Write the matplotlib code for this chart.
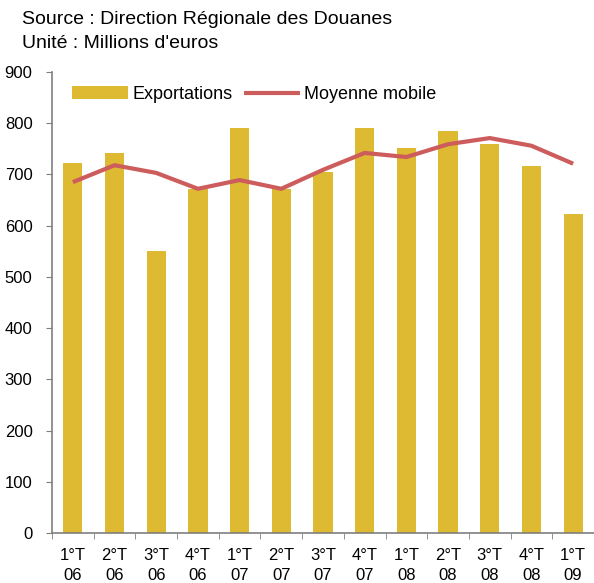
import matplotlib
matplotlib.use("Agg")
import matplotlib.pyplot as plt
import numpy as np

plt.rcParams['font.family'] = ['Liberation Sans', 'DejaVu Sans']

categories = ["1°T\n06", "2°T\n06", "3°T\n06", "4°T\n06", "1°T\n07", "2°T\n07", "3°T\n07",
              "4°T\n07", "1°T\n08", "2°T\n08", "3°T\n08", "4°T\n08", "1°T\n09"]
exportations = [722, 742, 551, 672, 791, 672, 705, 791, 752, 785, 759, 717, 623]
moyenne_mobile = [685, 718, 703, 672, 689, 672, 709, 742, 734, 759, 771, 756, 721]
yticks = [0, 100, 200, 300, 400, 500, 600, 700, 800, 900]

bar_color = "#DEB932"
line_color = "#CD5C5C"
axis_color = "#7F7F7F"

fig = plt.figure(figsize=(5.94, 5.83), dpi=100)
ax = fig.add_axes([52/594, 1 - 533/583, 1 - 52/594, (533 - 72)/583])

x = np.arange(len(categories))
bars = ax.bar(x, exportations, width=0.46, color=bar_color, label="Exportations", zorder=2)
line, = ax.plot(x, moyenne_mobile, color=line_color, lw=3, label="Moyenne mobile", zorder=3,
                solid_joinstyle='round', solid_capstyle='butt')

ax.set_xlim(-0.5, len(categories) - 0.5)
ax.set_ylim(0, 900)
ax.set_yticks(yticks)
ax.set_yticklabels([str(v) for v in yticks], fontsize=12)
ax.set_xticks(x)
ax.set_xticklabels(categories, fontsize=12, linespacing=1.4)
ax.set_xticks(np.arange(-0.5, len(categories), 1), minor=True)
ax.tick_params(axis='x', which='major', length=0, pad=11)
ax.tick_params(axis='x', which='minor', length=4, color=axis_color, direction='out')
ax.tick_params(axis='y', length=4, color=axis_color, direction='out', pad=10)

for s in ['top', 'right']:
    ax.spines[s].set_visible(False)
for s in ['left', 'bottom']:
    ax.spines[s].set_color(axis_color)
    ax.spines[s].set_linewidth(1.2)

ax.legend([bars, line], ["Exportations", "Moyenne mobile"],
          loc='upper left', bbox_to_anchor=(0.024, 0.985), ncol=2, frameon=False,
          fontsize=13, handlelength=3.1, handleheight=0.75, columnspacing=0.6,
          handletextpad=0.25, borderaxespad=0)

fig.text(22/594, 1 - 19/583, "Source : Direction Régionale des Douanes", fontsize=14,
         va='center', ha='left')
fig.text(22/594, 1 - 44/583, "Unité : Millions d'euros", fontsize=14,
         va='center', ha='left')

fig.savefig("out.png", dpi=100)
